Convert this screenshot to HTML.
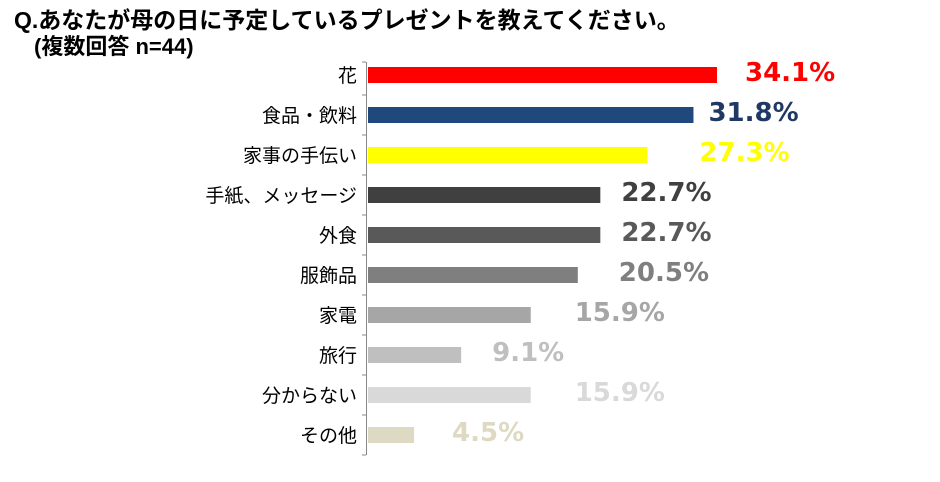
<!DOCTYPE html>
<html><head><meta charset="utf-8"><style>
body{margin:0;background:#fff;width:940px;height:477px;overflow:hidden;font-family:"Liberation Sans","Noto Sans CJK JP",sans-serif}
</style></head><body>
<svg width="940" height="477" xmlns="http://www.w3.org/2000/svg">
<text x="14" y="28" font-size="23" font-weight="bold" fill="#000" font-family="Liberation Sans, Noto Sans CJK JP, sans-serif">Q.あなたが母の日に予定しているプレゼントを教えてください。</text>
<text x="34" y="54" font-size="22" font-weight="bold" fill="#000" font-family="Liberation Sans, Noto Sans CJK JP, sans-serif">(複数回答 n=44)</text>
<g id="plot"></g>
</svg>
<script>
const categories=["花","食品・飲料","家事の手伝い","手紙、メッセージ","外食","服飾品","家電","旅行","分からない","その他"];
const values=[34.1,31.8,27.3,22.7,22.7,20.5,15.9,9.1,15.9,4.5];
const valueLabels=["34.1%","31.8%","27.3%","22.7%","22.7%","20.5%","15.9%","9.1%","15.9%","4.5%"];
const barColors=["#ff0000","#1f497d","#ffff00","#404040","#595959","#7f7f7f","#a6a6a6","#bfbfbf","#d9d9d9","#ddd9c3"];
const textColors=["#ff0000","#1f3864","#ffff00","#404040","#595959","#7f7f7f","#a6a6a6","#bfbfbf","#d9d9d9","#ddd9c3"];
const labelGap=[28,15,52,21,21,41,44,31,44,38];
const NS="http://www.w3.org/2000/svg";
const g=document.getElementById('plot');
const x0=368,pxPer=349/34.1,topY=55,band=40,barH=16;
const xs=v=>x0+v*pxPer;
const yc=i=>topY+band*i+band/2;
function mk(t,a){const e=document.createElementNS(NS,t);for(const k in a)e.setAttribute(k,a[k]);g.appendChild(e);return e;}
const ax=mk('line',{x1:366.5,x2:366.5,y1:62,y2:455,stroke:'#888','stroke-width':1});


for(let i=0;i<=categories.length;i++){
 const yy=topY+band*i+(i==0?7:0);
 const t=mk('line',{x1:362,x2:366,y1:yy,y2:yy,stroke:'#888'});
 
 
}
categories.forEach((c,i)=>{
 const y=yc(i);
 const r=mk('rect',{x:x0,y:y-barH/2,width:xs(values[i])-x0,height:barH,fill:barColors[i]});
 
 
 const l=mk('text',{x:357,y:y+7,'font-size':19,'text-anchor':'end',fill:'#000'});
 l.textContent=c;
 
 
 const v=mk('text',{x:xs(values[i])+labelGap[i],y:y+6,'font-size':26,'font-weight':'bold',fill:textColors[i],'font-family':'DejaVu Sans, sans-serif'});
 v.textContent=valueLabels[i];
 
 
});
</script>
</body></html>
